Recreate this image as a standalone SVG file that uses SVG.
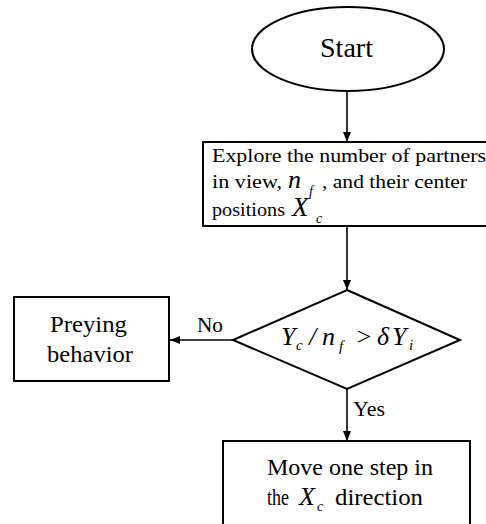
<svg xmlns="http://www.w3.org/2000/svg" width="486" height="524" viewBox="0 0 486 524">
  <style>
    .shape { fill: #fff; stroke: #000; stroke-width: 2; }
    .edge { fill: none; stroke: #000; stroke-width: 1.6; }
    .t { font-family: 'Liberation Serif', 'DejaVu Serif', serif; fill: #000; }
    .it { font-style: italic; }
  </style>
  <defs>
    <marker id="arrow" viewBox="0 0 10 10" refX="10" refY="5" markerWidth="10" markerHeight="10" markerUnits="userSpaceOnUse" orient="auto">
      <path d="M0,1 L10,5 L0,9 z" fill="#000"/>
    </marker>
  </defs>

  <g id="connectors">
    <line class="edge" x1="347" y1="91" x2="347" y2="142" marker-end="url(#arrow)"/>
    <line class="edge" x1="347" y1="226" x2="347" y2="290" marker-end="url(#arrow)"/>
    <line class="edge" x1="233" y1="340" x2="170" y2="340" marker-end="url(#arrow)"/>
    <line class="edge" x1="347" y1="389" x2="347" y2="441" marker-end="url(#arrow)"/>
    <text class="t" x="197" y="332" font-size="21" textLength="26" lengthAdjust="spacingAndGlyphs">No</text>
    <text class="t" x="353" y="416" font-size="21" textLength="32" lengthAdjust="spacingAndGlyphs">Yes</text>
  </g>

  <g id="start">
    <ellipse class="shape" cx="348" cy="49" rx="96" ry="42"/>
    <text class="t" x="320" y="57" font-size="28" textLength="53" lengthAdjust="spacingAndGlyphs">Start</text>
  </g>

  <g id="explore">
    <rect class="shape" x="203" y="142" width="290" height="84"/>
    <text class="t" x="212" y="162" font-size="19.5" textLength="274" lengthAdjust="spacingAndGlyphs">Explore the number of partners</text>
    <text class="t" x="212" y="188" font-size="19.5" textLength="70" lengthAdjust="spacingAndGlyphs">in view,</text>
    <text class="t it" x="288" y="188" font-size="26">n</text>
    <text class="t it" x="309" y="196" font-size="14">f</text>
    <text class="t" x="322" y="188" font-size="19.5" textLength="145" lengthAdjust="spacingAndGlyphs">, and their center</text>
    <text class="t" x="212" y="216" font-size="19.5" textLength="73" lengthAdjust="spacingAndGlyphs">positions</text>
    <text class="t it" x="292" y="216" font-size="27">X</text>
    <text class="t it" x="316" y="223" font-size="14">c</text>
  </g>

  <g id="condition">
    <polygon class="shape" points="347,290 460,340 347,389 233,340"/>
    <text class="t it" font-size="26" y="345">
      <tspan x="281">Y</tspan>
      <tspan x="296" y="350" font-size="15">c</tspan>
      <tspan x="309" y="345">/</tspan>
      <tspan x="322">n</tspan>
      <tspan x="339" y="351" font-size="15">f</tspan>
      <tspan x="355" y="345">&gt;</tspan>
      <tspan x="377">δ</tspan>
      <tspan x="392">Y</tspan>
      <tspan x="409" y="350" font-size="15">i</tspan>
    </text>
  </g>

  <g id="preying">
    <rect class="shape" x="14" y="297" width="155" height="84"/>
    <text class="t" x="50" y="332" font-size="23" textLength="77" lengthAdjust="spacingAndGlyphs">Preying</text>
    <text class="t" x="47" y="362" font-size="23" textLength="86" lengthAdjust="spacingAndGlyphs">behavior</text>
  </g>

  <g id="move">
    <rect class="shape" x="223" y="441" width="247" height="100"/>
    <text class="t" x="267" y="475" font-size="23" textLength="166" lengthAdjust="spacingAndGlyphs">Move one step in</text>
    <text class="t" x="267" y="505" font-size="23" textLength="22" lengthAdjust="spacingAndGlyphs">the</text>
    <text class="t it" x="299" y="505" font-size="26">X</text>
    <text class="t it" x="317" y="511" font-size="14">c</text>
    <text class="t" x="335" y="505" font-size="23" textLength="88" lengthAdjust="spacingAndGlyphs">direction</text>
  </g>
</svg>
